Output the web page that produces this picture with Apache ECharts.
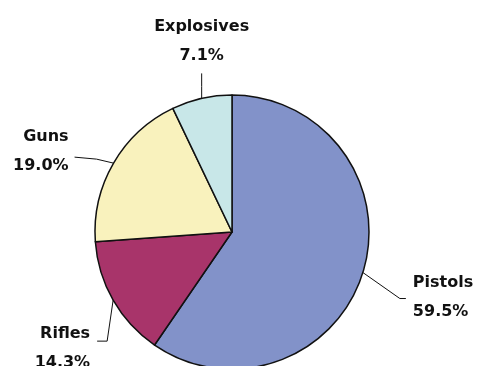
<!DOCTYPE html>
<html>
<head>
<meta charset="utf-8">
<script src="https://cdn.jsdelivr.net/npm/echarts@6/dist/echarts.min.js"></script>
<style>
  html, body { margin: 0; padding: 0; background: #ffffff; }
  #chart { width: 480px; height: 366px; }
</style>
</head>
<body>
<div id="chart"></div>
<script>
// Share of weapon types (percent), clockwise from 12 o'clock
const categories = ['Pistols', 'Rifles', 'Guns', 'Explosives'];
const shares = [59.5, 14.3, 19.0, 7.1];
const sliceColors = ['#8292c9', '#a8346a', '#f9f2bd', '#c8e7e8'];

// Where each label sits relative to its slice's edge anchor,
// and the bend points of its leader line.
const labelPlacement = {
  Pistols:    { bend: [[37, 26], [43, 26]], at: [50, 25],  align: 'left',   vAlign: 'middle' },
  Rifles:     { bend: [[-6, 41], [-16, 41]], at: [-23, 48], align: 'right',  vAlign: 'middle' },
  Guns:       { bend: [[-17, -4], [-39, -6]], at: [-45, -12], align: 'right', vAlign: 'middle' },
  Explosives: { bend: [[0, -12], [0, -25]], at: [0, -28],  align: 'center', vAlign: 'bottom' }
};

const center = [232, 232];
const radius = 137;

const chart = echarts.init(document.getElementById('chart'), null, { renderer: 'canvas' });

chart.setOption({
  backgroundColor: '#ffffff',
  animation: false,
  series: [{
    type: 'pie',
    center: center,
    radius: radius,
    startAngle: 90,
    clockwise: true,
    avoidLabelOverlap: false,
    data: categories.map((name, i) => ({
      name: name,
      value: shares[i],
      itemStyle: { color: sliceColors[i] }
    })),
    itemStyle: { borderColor: '#111111', borderWidth: 1.5 },
    emphasis: { disabled: true },
    label: {
      show: true,
      position: 'outside',
      formatter: p => p.name + '\n' + Number(p.value).toFixed(1) + '%',
      fontFamily: 'DejaVu Sans',
      fontWeight: 'bold',
      fontSize: 16,
      lineHeight: 29,
      color: '#111111'
    },
    labelLine: {
      show: true,
      length: 12,
      length2: 10,
      lineStyle: { color: '#111111', width: 1 }
    },
    labelLayout: function (params) {
      const name = categories[params.dataIndex];
      const cfg = labelPlacement[name];
      const pts = params.labelLinePoints;
      let a;
      if (pts && pts.length) {
        a = pts[0];
      } else {
        // fall back to the slice's mid-angle on the rim
        const total = shares.reduce((s, v) => s + v, 0);
        let before = 0;
        for (let i = 0; i < params.dataIndex; i++) before += shares[i];
        const mid = (before + shares[params.dataIndex] / 2) / total * Math.PI * 2;
        a = [center[0] + radius * Math.sin(mid), center[1] - radius * Math.cos(mid)];
      }
      return {
        x: a[0] + cfg.at[0],
        y: a[1] + cfg.at[1],
        align: cfg.align,
        verticalAlign: cfg.vAlign,
        labelLinePoints: [
          [a[0], a[1]],
          [a[0] + cfg.bend[0][0], a[1] + cfg.bend[0][1]],
          [a[0] + cfg.bend[1][0], a[1] + cfg.bend[1][1]]
        ]
      };
    }
  }]
});
</script>
</body>
</html>
